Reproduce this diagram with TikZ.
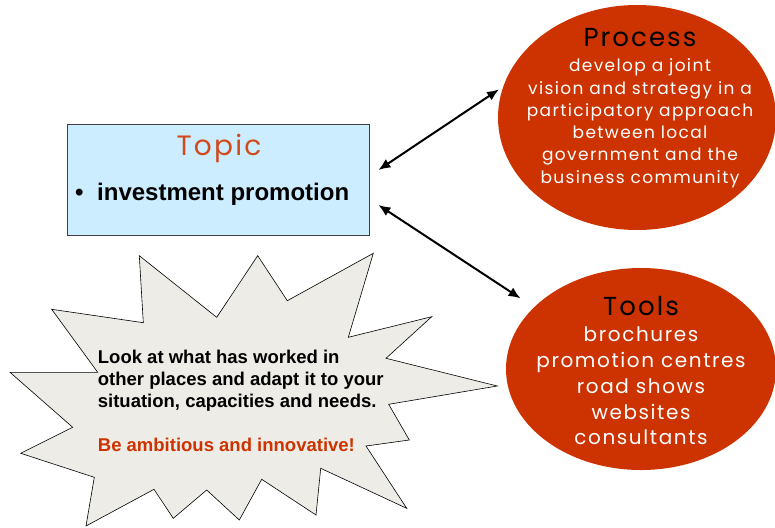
\documentclass[tikz,border=0pt]{standalone}
\usepackage{fontspec}
\setmainfont{Liberation Sans}
\newfontfamily\roundfont[LetterSpace=8]{Poppins}
\usetikzlibrary{arrows.meta,shapes.geometric}

\definecolor{brick}{HTML}{CC3300}
\definecolor{topicred}{HTML}{D24A1C}
\definecolor{paleblue}{HTML}{CCECFF}
\definecolor{burstgray}{HTML}{EEECE6}

\tikzset{
  bubble/.style={ellipse, fill=brick, inner sep=0pt},
  heading/.style={anchor=base, inner sep=0pt, font=\roundfont\fontsize{26}{30}\selectfont},
  bubbletext/.style={anchor=base, inner sep=0pt, align=center, text=white},
  twoway/.style={{Latex[length=12pt,width=10pt]}-{Latex[length=12pt,width=10pt]}, line width=2pt}
}

\begin{document}
\begin{tikzpicture}[x=1pt,y=-1pt]
  \useasboundingbox (0,0) rectangle (775,527);
  % the two bubbles on the right
  \node[bubble, minimum width=278pt, minimum height=225pt] (process) at (637,117.5) {};
  \node[bubble, minimum width=270pt, minimum height=202pt] (tools) at (641,369) {};
  \node[heading] (processhead) at (640,47) {Process};
  % base of a multi-line node = base of its last line
  \node[bubbletext, font=\roundfont\fontsize{17}{22.3}\selectfont] (processtext) at (640,183.2)
    {develop a joint\\vision and strategy in a\\participatory approach\\between local\\government and the\\business community};
  \node[heading] (toolshead) at (641,315) {Tools};
  \node[bubbletext, font=\roundfont\fontsize{20}{25.8}\selectfont] (toolstext) at (641,444.9)
    {brochures\\promotion centres\\road shows\\websites\\consultants};
  % the topic box
  \node[draw=black!75, fill=paleblue, line width=0.8pt, minimum width=302pt, minimum height=111pt, inner sep=0pt] (topic) at (218.5,179.5) {};
  \node[heading, text=topicred, font=\roundfont\fontsize{28}{32}\selectfont] (topichead) at (219,155) {Topic};
  \node[anchor=base west, inner sep=0pt, font=\bfseries\fontsize{24}{28}\selectfont] (topicitem) at (75,200)
    {\makebox[22pt][l]{\textbullet}investment promotion};
  % the star
  \draw[fill=burstgray, line width=0.6pt]
    (139.3,255.7) -- (143.3,322.7) -- (51.7,309.3) -- (97.7,372.3) -- (10,372.3)
    -- (72.7,427.3) -- (20.7,453.3) -- (94.3,477.3) -- (86,526) -- (154,489.3)
    -- (173.3,518.3) -- (206.7,490) -- (239.3,520) -- (261.7,479.3) -- (316,515)
    -- (320.7,468.3) -- (406.7,508.3) -- (366,446) -- (409.3,440) -- (388.7,404.3)
    -- (497.3,386) -- (386,358.3) -- (431.7,316.7) -- (348.3,337.3) -- (373.3,253.3)
    -- (287.3,300.7) -- (257.7,255.7) -- (216.7,317.3) -- cycle;
  \node[anchor=base west, inner sep=0pt, align=left, font=\bfseries\fontsize{18.5}{22}\selectfont] (advice) at (97.7,451.7)
    {Look at what has worked in\\other places and adapt it to your\\situation, capacities and needs.\\[22pt]\textcolor{brick}{Be ambitious and innovative!}};
  % the links
  \draw[twoway, shorten >=5pt] ([xshift=8.5pt,yshift=9.5pt]topic.east) -- (process.167);
  \draw[twoway, shorten >=16pt] ([xshift=8.5pt,yshift=-25.5pt]topic.east) -- (tools.150);
\end{tikzpicture}
\end{document}
